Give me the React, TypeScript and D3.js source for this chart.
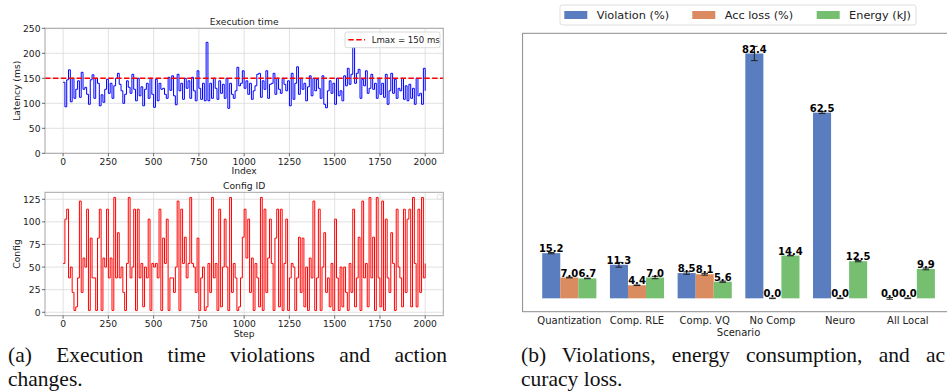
import React, { useLayoutEffect, useRef, useState } from 'react';
import * as d3 from 'd3';

// ---- panel (a): execution time + config id, one value per 10 steps ----
const stepSize = 10;
const latency = [
  142, 93, 147, 167, 103, 150, 110, 128, 145, 112,
  162, 128, 132, 118, 98, 147, 157, 110, 150, 140,
  95, 117, 102, 128, 148, 120, 140, 110, 135, 150,
  160, 138, 125, 100, 118, 145, 132, 120, 158, 128,
  105, 150, 115, 133, 95, 128, 140, 110, 150, 118,
  92, 148, 105, 140, 128, 130, 118, 110, 152, 126,
  155, 115, 97, 158, 125, 140, 108, 150, 130, 145,
  110, 152, 125, 105, 165, 130, 108, 140, 105, 222,
  105, 140, 110, 150, 130, 108, 145, 120, 138, 110,
  150, 90, 140, 118, 110, 125, 172, 135, 140, 165,
  130, 145, 118, 140, 108, 125, 135, 158, 160, 112,
  145, 128, 165, 110, 138, 140, 160, 118, 150, 128,
  120, 150, 138, 125, 145, 95, 160, 108, 140, 173,
  118, 150, 128, 140, 105, 133, 155, 115, 150, 125,
  148, 130, 110, 155, 98, 91, 125, 145, 120, 140,
  98, 150, 115, 125, 105, 155, 135, 170, 138, 158,
  212, 140, 160, 168, 110, 148, 135, 165, 120, 130,
  158, 128, 140, 110, 150, 118, 140, 112, 158, 98,
  125, 160, 120, 148, 110, 130, 125, 150, 108, 135,
  105, 138, 110, 130, 98, 150, 115, 120, 98, 170,
  125,
];
const configIds = [
  54, 103, 114, 38, 50, 22, 2, 6, 38, 123,
  22, 60, 50, 114, 2, 82, 38, 38, 2, 82,
  114, 2, 60, 50, 114, 38, 60, 2, 127, 38,
  88, 38, 50, 22, 2, 54, 127, 38, 50, 114,
  2, 114, 38, 54, 6, 50, 38, 103, 2, 54,
  50, 54, 38, 114, 2, 82, 54, 103, 2, 38,
  38, 22, 50, 123, 2, 114, 54, 83, 38, 54,
  127, 54, 50, 22, 82, 2, 38, 50, 2, 6,
  54, 22, 127, 38, 54, 2, 114, 6, 50, 103,
  50, 2, 127, 22, 54, 38, 2, 6, 38, 83,
  114, 60, 103, 22, 60, 2, 54, 38, 6, 127,
  2, 114, 22, 60, 103, 54, 2, 82, 114, 6,
  114, 2, 54, 103, 2, 38, 54, 50, 2, 38,
  83, 22, 82, 6, 50, 2, 60, 38, 123, 2,
  38, 114, 2, 50, 88, 22, 38, 6, 54, 2,
  103, 38, 2, 50, 6, 50, 22, 2, 54, 22,
  114, 6, 38, 83, 2, 123, 38, 54, 6, 127,
  38, 83, 2, 127, 38, 6, 123, 2, 103, 38,
  22, 88, 54, 2, 114, 50, 38, 6, 114, 22,
  103, 114, 6, 127, 54, 6, 114, 22, 127, 38,
  54,
];
const indexTicks = [0, 250, 500, 750, 1000, 1250, 1500, 1750, 2000];
const latencyTicks = [0, 50, 100, 150, 200, 250];
const configTicks = [0, 25, 50, 75, 100, 125];
const lmax = 150;

// ---- panel (b): scenarios ----
const scenarios = ['Quantization', 'Comp. RLE', 'Comp. VQ', 'No Comp', 'Neuro', 'All Local'];
const violation = [15.2, 11.3, 8.5, 82.4, 62.5, 0.0];
const violationErr = [0.2, 0.8, 0.4, 2.4, 0.3, 0.3];
const accLoss = [7.0, 4.4, 8.1, 0.0, 0.0, 0.0];
const accLossErr = [0.1, 0.1, 0.3, 0.1, 0.1, 0.1];
const energy = [6.7, 7.0, 5.6, 14.4, 12.5, 9.9];
const energyErr = [0.1, 0.4, 0.2, 0.1, 0.2, 0.3];
const seriesNames = ['Violation (%)', 'Acc loss (%)', 'Energy (kJ)'];
const seriesColors = ['#597dbf', '#da8b5f', '#76bf71'];

const sans = 'DejaVu Sans, sans-serif';
const serif = 'Liberation Serif, DejaVu Serif, serif';

function LinePanel({ frame, yDomain, values, color, yTicks, title, xLabel, yLabel, legend }) {
  const x = d3.scaleLinear().domain([-100, 2100]).range([frame.left, frame.right]);
  const y = d3.scaleLinear().domain(yDomain).range([frame.bottom, frame.top]);
  const line = d3.line<number>()
    .x((_, i) => x(i * stepSize))
    .y(d => y(d))
    .curve(d3.curveStepAfter);
  const fs = 9.2;
  const midY = (frame.top + frame.bottom) / 2;
  const midX = (frame.left + frame.right) / 2;
  return (
    <g fontFamily={sans} fontSize={fs} fill="#222">
      <rect x={frame.left} y={frame.top} width={frame.right - frame.left} height={frame.bottom - frame.top} fill="white" />
      {indexTicks.map(t => (
        <line key={'gx' + t} x1={x(t)} x2={x(t)} y1={frame.top} y2={frame.bottom} stroke="#d9d9d9" strokeWidth={0.8} />
      ))}
      {yTicks.map(t => (
        <line key={'gy' + t} x1={frame.left} x2={frame.right} y1={y(t)} y2={y(t)} stroke="#d9d9d9" strokeWidth={0.8} />
      ))}
      <path d={line(values) || ''} fill="none" stroke={color} strokeWidth={1} />
      {legend && (
        <line x1={frame.left} x2={frame.right} y1={y(lmax)} y2={y(lmax)} stroke="red" strokeWidth={1.5} strokeDasharray="5.5,2.4" />
      )}
      <rect x={frame.left} y={frame.top} width={frame.right - frame.left} height={frame.bottom - frame.top} fill="none" stroke="#a6a6a6" strokeWidth={1} />
      {indexTicks.map(t => (
        <g key={'tx' + t}>
          <line x1={x(t)} x2={x(t)} y1={frame.bottom} y2={frame.bottom + 3} stroke="#444" strokeWidth={0.8} />
          <text x={x(t)} y={frame.bottom + 8} textAnchor="middle" dominantBaseline="central">{t}</text>
        </g>
      ))}
      {yTicks.map(t => (
        <g key={'ty' + t}>
          <line x1={frame.left - 3} x2={frame.left} y1={y(t)} y2={y(t)} stroke="#444" strokeWidth={0.8} />
          <text x={frame.left - 4.5} y={y(t)} textAnchor="end" dominantBaseline="central">{t}</text>
        </g>
      ))}
      <text x={midX} y={frame.top - 3} textAnchor="middle">{title}</text>
      <text x={midX} y={frame.bottom + 17.5} textAnchor="middle" dominantBaseline="central">{xLabel}</text>
      <text transform={`translate(16.7,${midY}) rotate(-90)`} textAnchor="middle" dominantBaseline="central">{yLabel}</text>
      {legend ? (
        <g>
          <rect x={345} y={32} width={95} height={15.7} rx={2} fill="white" fillOpacity={0.85} stroke="#d0d0d0" strokeWidth={0.8} />
          <line x1={348.3} x2={365} y1={39.8} y2={39.8} stroke="red" strokeWidth={1.5} strokeDasharray="5.5,2.4" />
          <text x={371.7} y={39.8} dominantBaseline="central" fontSize={8.6}>{`Lmax = ${lmax} ms`}</text>
        </g>
      ) : (
        <rect x={437.3} y={194.5} width={4.4} height={4.4} rx={1} fill="white" stroke="#d0d0d0" strokeWidth={0.6} />
      )}
    </g>
  );
}

function BarPanel() {
  const x = d3.scaleLinear().domain([0, 5]).range([569.3, 907.8]);
  const y = d3.scaleLinear().domain([-4.5, 89.2]).range([311.7, 33.3]);
  const bw = 0.8 / 3;
  const groups = [
    { vals: violation, errs: violationErr },
    { vals: accLoss, errs: accLossErr },
    { vals: energy, errs: energyErr },
  ];
  const left = x(-0.69);
  const right = x(5.69);
  return (
    <g fontFamily={sans}>
      <rect x={left} y={y(89.2)} width={right - left} height={y(-4.5) - y(89.2)} fill="white" stroke="#8c8c8c" strokeWidth={1} />
      {groups.map((g, si) =>
        g.vals.map((v, ci) => {
          const cx = x(ci + (si - 1) * bw);
          const x0 = x(ci + (si - 1) * bw - bw / 2);
          const x1 = x(ci + (si - 1) * bw + bw / 2);
          const e = g.errs[ci];
          return (
            <g key={`${si}-${ci}`}>
              <rect x={x0} y={y(v)} width={x1 - x0} height={Math.max(0, y(0) - y(v))} fill={seriesColors[si]} />
              <line x1={cx} x2={cx} y1={y(v + e)} y2={y(v - e)} stroke="#222" strokeWidth={1} />
              <line x1={cx - 3.3} x2={cx + 3.3} y1={y(v + e)} y2={y(v + e)} stroke="#222" strokeWidth={1} />
              <line x1={cx - 3.3} x2={cx + 3.3} y1={y(v - e)} y2={y(v - e)} stroke="#222" strokeWidth={1} />
              <text x={cx} y={y(v) - 1} textAnchor="middle" fontSize={10} fontWeight="bold" fill="#000">{v.toFixed(1)}</text>
            </g>
          );
        })
      )}
      {scenarios.map((s, ci) => (
        <text key={s} x={x(ci)} y={320} textAnchor="middle" dominantBaseline="central" fontSize={10} fill="#222">{s}</text>
      ))}
      <text x={(left + right) / 2} y={332.3} textAnchor="middle" dominantBaseline="central" fontSize={10} fill="#222">Scenario</text>
      <rect x={560} y={5} width={356} height={20} rx={2.5} fill="white" stroke="#d6d6d6" strokeWidth={0.8} />
      {seriesNames.map((n, i) => {
        const px = [564.3, 692.3, 816.7][i];
        return (
          <g key={n}>
            <rect x={px} y={11} width={23} height={8} fill={seriesColors[i]} />
            <text x={px + 32.4} y={15.3} dominantBaseline="central" fontSize={11.3} fill="#222">{n}</text>
          </g>
        );
      })}
    </g>
  );
}

// caption line spread to a given width by widening the gaps between words
function Justified({ x, y, width, text }) {
  const ref = useRef<SVGTextElement>(null);
  const [ws, setWs] = useState(0);
  useLayoutEffect(() => {
    const el = ref.current;
    if (!el) return;
    const len = el.getComputedTextLength();
    const gaps = text.split(' ').length - 1;
    setWs(Math.max(0, (width - len) / gaps));
  }, [text, width]);
  return <text ref={ref} x={x} y={y} style={{ wordSpacing: ws ? `${ws}px` : undefined }}>{text}</text>;
}

export default function App() {
  return (
    <div style={{ position: 'absolute', left: 0, top: 0 }}>
      <svg width={947} height={392} style={{ display: 'block', background: 'white' }}>
        <rect width={947} height={392} fill="white" />
        <LinePanel
          frame={{ left: 45, right: 443.3, top: 28.3, bottom: 153.3 }}
          yDomain={[0, 250]}
          values={latency}
          color="blue"
          yTicks={latencyTicks}
          title="Execution time"
          xLabel="Index"
          yLabel="Latency (ms)"
          legend
        />
        <LinePanel
          frame={{ left: 45, right: 443.3, top: 192.3, bottom: 315.7 }}
          yDomain={[-3.8, 132.7]}
          values={configIds}
          color="red"
          yTicks={configTicks}
          title="Config ID"
          xLabel="Step"
          yLabel="Config"
          legend={false}
        />
        <BarPanel />
        <g fontFamily={serif} fontSize={21.5} fill="#111">
          <Justified x={8} y={362} width={439} text="(a) Execution time violations and action" />
          <text x={8} y={385.5}>changes.</text>
          <Justified x={521} y={362} width={424} text="(b) Violations, energy consumption, and ac" />
          <text x={521} y={385.5}>curacy loss.</text>
        </g>
      </svg>
    </div>
  );
}
